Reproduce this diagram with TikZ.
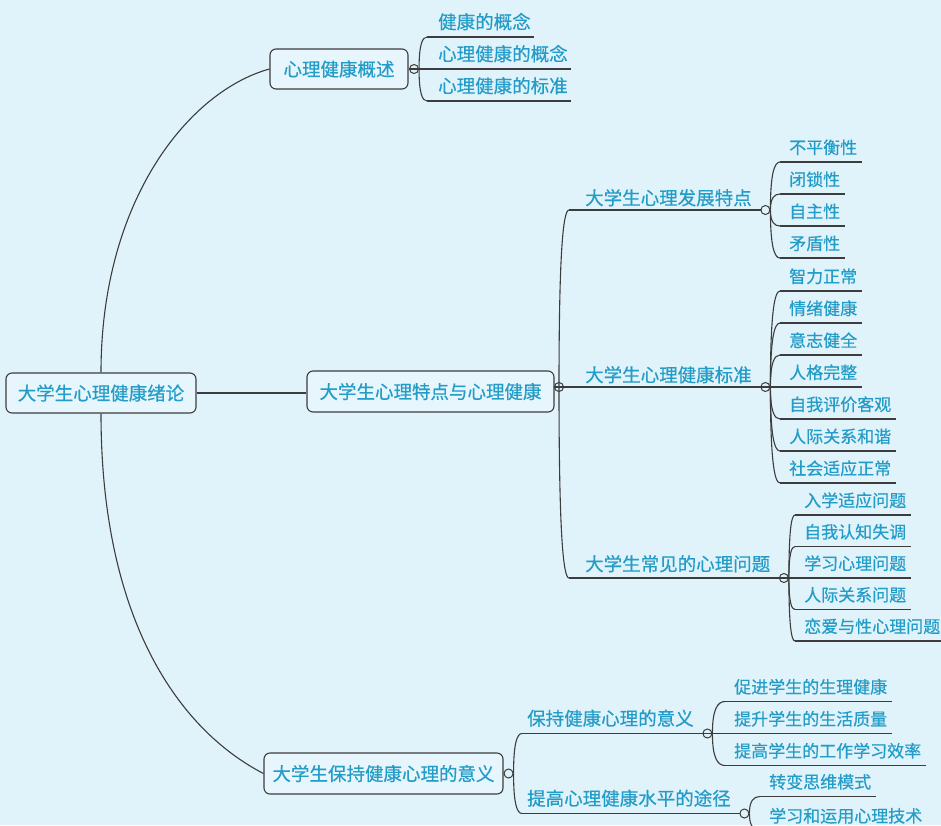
\documentclass[tikz,border=0pt]{standalone}
\usepackage{fontspec}
\setmainfont{Noto Sans CJK SC}[FakeBold=0.5]
\usetikzlibrary{calc}

\definecolor{paper}{HTML}{E1F3FA}
\definecolor{ink}{HTML}{239CC8}
\definecolor{wire}{HTML}{3C3C3C}
\definecolor{boxfill}{HTML}{E6F6FC}

\newcommand\szA{\fontsize{18.5pt}{22pt}\selectfont}
\newcommand\szB{\fontsize{17pt}{20pt}\selectfont}
\newcommand\mylpad{9pt}
\newcommand\myrpad{5pt}

\tikzset{
  link/.style={draw=wire, line width=1.1pt},
  lpad/.store in=\mylpad,
  rpad/.store in=\myrpad,
  padded/.style={execute at begin node={\hspace*{\mylpad}},
                 execute at end node={\hspace*{\myrpad}}},
  topic/.style={draw=wire, line width=1.1pt, rounded corners=6pt, fill=boxfill,
    text=ink, font=\szA, inner xsep=0pt, inner ysep=0pt, minimum height=40pt},
  sub/.style={text=ink, font=\szA, anchor=south west, inner xsep=0pt,
    inner ysep=8pt, text depth=0pt, padded},
  leaf/.style={text=ink, font=\szB, anchor=south west, inner xsep=0pt,
    inner ysep=8pt, text depth=0pt, lpad=9pt, rpad=5pt, padded},
  knob/.style={circle, draw=wire, line width=1pt, minimum size=9pt, inner sep=0pt},
  brace/.style={to path={.. controls ($(\tikztostart)!0.75!(\tikztostart|-\tikztotarget)$)
    and ($(\tikztostart|-\tikztotarget)!0.4!(\tikztotarget)$) .. (\tikztotarget)}}
}

\begin{document}
\begin{tikzpicture}[x=1pt, y=-1pt]
\useasboundingbox (0,0) rectangle (941,825);
\fill[paper] (0,0) rectangle (941,825);
\clip (0,0) rectangle (941,825);

% main topics
\node[topic, minimum width=190pt] (root) at (101,393) {大学生心理健康绪论};
\node[topic, minimum width=138pt] (ov) at (339,69) {心理健康概述};
\node[topic, minimum width=247pt, minimum height=41pt] (mid) at (430.5,391.5) {大学生心理特点与心理健康};
\node[topic, minimum width=239pt, minimum height=41pt] (bot) at (383.5,773.5) {大学生保持健康心理的意义};

% collapse knobs of the main topics
\node[knob] (kov) at ([xshift=5.5pt]ov.east) {};
\node[knob] (kmid) at (559,387) {};
\node[knob] (kbot) at ([xshift=5pt]bot.east) {};

% second level
\node[sub, lpad=11pt, rpad=3pt] (c1) at (427,37) {健康的概念};
\node[sub, lpad=11pt, rpad=3pt] (c2) at (427,69) {心理健康的概念};
\node[sub, lpad=11pt, rpad=3pt] (c3) at (427,101) {心理健康的标准};
\node[sub, lpad=16pt, rpad=9pt, inner ysep=5pt] (dev) at (569,210) {大学生心理发展特点};
\node[sub, lpad=16pt, rpad=9pt, inner ysep=5pt] (std) at (569,387) {大学生心理健康标准};
\node[sub, lpad=16pt, rpad=9pt, inner ysep=7pt] (prb) at (569,578) {大学生常见的心理问题};
\node[sub, lpad=5pt, rpad=9pt] (keep) at (522,733.5) {保持健康心理的意义};
\node[sub, lpad=5pt, rpad=9pt] (way) at (522,813.5) {提高心理健康水平的途径};

\node[knob] (kdev) at ([xshift=4.5pt]dev.south east) {};
\node[knob] (kstd) at ([xshift=4.5pt]std.south east) {};
\node[knob] (kprb) at ([xshift=4.5pt]prb.south east) {};
\node[knob] (kkeep) at ([xshift=4.5pt]keep.south east) {};
\node[knob] (kway) at ([xshift=4.5pt]way.south east) {};

% third level
\node[leaf] (d1) at (780,162) {不平衡性};
\node[leaf] (d2) at (780,194) {闭锁性};
\node[leaf] (d3) at (780,226) {自主性};
\node[leaf] (d4) at (780,258) {矛盾性};

\node[leaf] (s1) at (780,291) {智力正常};
\node[leaf] (s2) at (780,323) {情绪健康};
\node[leaf] (s3) at (780,355) {意志健全};
\node[leaf] (s4) at (780,387) {人格完整};
\node[leaf] (s5) at (780,419) {自我评价客观};
\node[leaf] (s6) at (780,451) {人际关系和谐};
\node[leaf] (s7) at (780,483) {社会适应正常};

\node[leaf] (p1) at (795,515) {入学适应问题};
\node[leaf] (p2) at (795,546.5) {自我认知失调};
\node[leaf] (p3) at (795,578) {学习心理问题};
\node[leaf] (p4) at (795,609.5) {人际关系问题};
\node[leaf] (p5) at (795,641) {恋爱与性心理问题};

\node[leaf] (e1) at (725,701.5) {促进学生的生理健康};
\node[leaf] (e2) at (725,733.5) {提升学生的生活质量};
\node[leaf] (e3) at (725,765.5) {提高学生的工作学习效率};

\node[leaf] (w1) at (760,796.5) {转变思维模式};
\node[leaf] (w2) at (760,830.5) {学习和运用心理技术};

% underlines of the text topics
\foreach \n in {c1,c2,c3,dev,std,prb,keep,way,d1,d2,d3,d4,s1,s2,s3,s4,s5,s6,s7,
                p1,p2,p3,p4,p5,e1,e2,e3,w1,w2}
  \draw[link] (\n.south west) -- (\n.south east);

% branches from the central topic
\draw[link] (root.north) .. controls +(0,-173) and +(-80,22) .. (ov.west);
\draw[link] (root.south) .. controls +(0,207) and +(-84,-43.5) .. (bot.west);
\draw[link] (root.east) -- (root.east -| mid.west);

% overview branch
\draw[link] (kov.east) to[brace] (c1.south west);
\draw[link] (kov.west) -- (c2.south west);
\draw[link] (kov.east) to[brace] (c3.south west);

% characteristics branch
\draw[link] (kmid.center) to[brace] (dev.south west);
\draw[link] (kmid.west) -- (std.south west);
\draw[link] (kmid.center) to[brace] (prb.south west);

\foreach \n in {d1,d2,d3,d4}
  \draw[link] (kdev.east) to[brace] (\n.south west);
\foreach \n in {s1,s2,s3,s5,s6,s7}
  \draw[link] (kstd.east) to[brace] (\n.south west);
\draw[link] (kstd.west) -- (s4.south west);
\foreach \n in {p1,p2,p4,p5}
  \draw[link] (kprb.east) to[brace] (\n.south west);
\draw[link] (kprb.west) -- (p3.south west);

% significance branch
\draw[link] (kbot.east) to[brace] (keep.south west);
\draw[link] (kbot.east) to[brace] (way.south west);
\draw[link] (kkeep.east) to[brace] (e1.south west);
\draw[link] (kkeep.west) -- (e2.south west);
\draw[link] (kkeep.east) to[brace] (e3.south west);
\draw[link] (kway.east) to[brace] (w1.south west);
\draw[link] (kway.east) to[brace] (w2.south west);
\end{tikzpicture}
\end{document}
